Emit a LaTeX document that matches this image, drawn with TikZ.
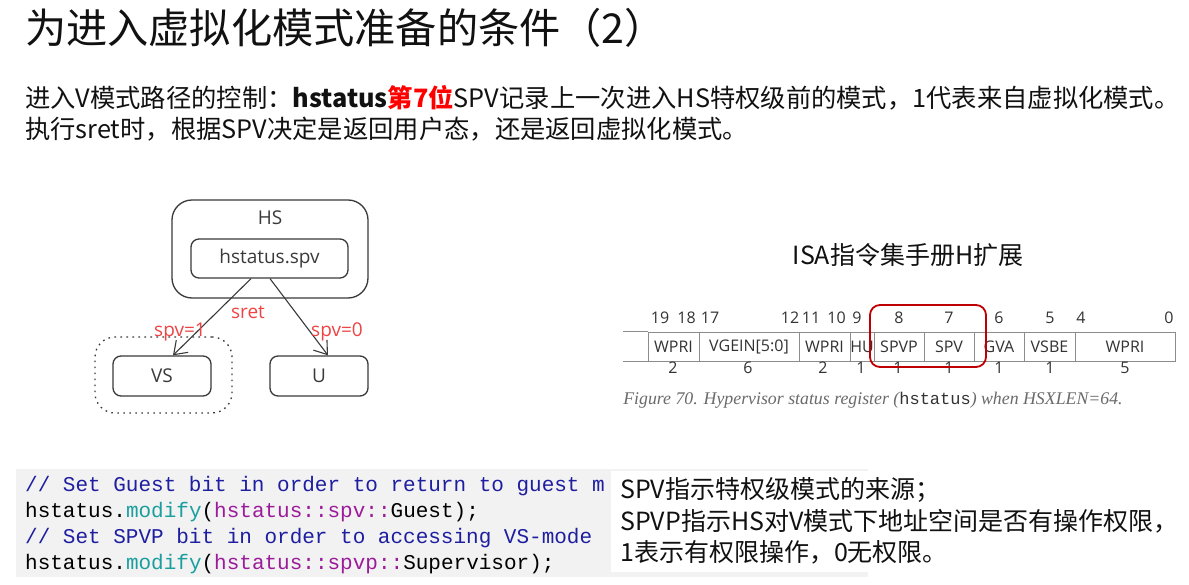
\documentclass[tikz,border=0pt]{standalone}
\usepackage{fontspec}
\usetikzlibrary{arrows.meta,calc}
\newfontfamily\cjk{Noto Sans CJK SC}
\newfontfamily\osans{Open Sans}
\newfontfamily\mono{Liberation Mono}
\newfontfamily\capserif{Liberation Serif}
\definecolor{boxgray}{HTML}{3A3A3A}
\definecolor{redlbl}{HTML}{EE4444}
\definecolor{bodyred}{HTML}{FF0000}
\definecolor{regline}{HTML}{8C8C8C}
\definecolor{regtext}{HTML}{333333}
\definecolor{redbox}{HTML}{C00000}
\definecolor{capgray}{HTML}{6A6A6A}
\definecolor{codeblue}{HTML}{1E1EA0}
\definecolor{codeteal}{HTML}{1A9E9E}
\definecolor{codepurple}{HTML}{9B1B9B}
\definecolor{codebg}{HTML}{F2F2F2}
\definecolor{txt}{HTML}{111111}
\tikzset{
  titletext/.style={anchor=west, inner sep=0pt, text=txt, font=\cjk\fontsize{41.2pt}{45pt}\selectfont},
  bodytext/.style={anchor=west, inner sep=0pt, text=txt, font=\cjk\fontsize{25.3pt}{30pt}\selectfont},
  notetext/.style={anchor=west, inner sep=0pt, text=txt, font=\cjk\fontsize{25pt}{30pt}\selectfont},
  isatext/.style={inner sep=0pt, text=txt, font=\cjk\fontsize{25pt}{29pt}\selectfont},
  outerbox/.style={draw=boxgray, line width=1.3pt, rounded corners=20pt, inner sep=0pt},
  statebox/.style={draw=boxgray, line width=1.3pt, rounded corners=8pt, inner sep=0pt, text=boxgray, font=\osans\fontsize{19pt}{22pt}\selectfont},
  statelbl/.style={inner sep=0pt, text=boxgray, font=\osans\fontsize{19pt}{22pt}\selectfont},
  dotbox/.style={draw=boxgray, line width=1.3pt, rounded corners=20pt, inner sep=0pt, dash pattern=on 1.6pt off 4.4pt},
  arr/.style={draw=boxgray, line width=1.1pt, -{Straight Barb[length=12pt,width=17pt,line width=1.1pt]}},
  redlabel/.style={inner sep=0pt, text=redlbl, font=\osans\fontsize{19pt}{22pt}\selectfont},
  cell/.style={draw=regline, line width=0.8pt, inner sep=0pt, minimum height=29pt, text=regtext, font=\osans\fontsize{16pt}{19pt}\selectfont},
  bitnum/.style={inner sep=0pt, text=regtext, font=\osans\fontsize{16pt}{19pt}\selectfont},
  regl/.style={draw=regline, line width=0.8pt},
  redsel/.style={draw=redbox, line width=1.8pt, rounded corners=10pt},
  captext/.style={inner sep=0pt, text=capgray, font=\capserif\fontsize{17.8pt}{21pt}\selectfont},
  codeline/.style={anchor=base west, inner sep=0pt, text=black, font=\mono\fontsize{21pt}{26pt}\selectfont},
}
\begin{document}
\begin{tikzpicture}[x=1pt,y=-1pt]
\path[use as bounding box] (0,0) rectangle (1189,585);
\fill[white] (0,0) rectangle (1189,585);

% title and introduction
\node[titletext] (title) at (25,28) {为进入虚拟化模式准备的条件（2）};
\node[bodytext] (line1) at (25,98) {进入V模式路径的控制：\textbf{hstatus\textcolor{bodyred}{第7位}}SPV记录上一次进入HS特权级前的模式，1代表来自虚拟化模式。};
\node[bodytext] (line2) at (25,129) {执行sret时，根据SPV决定是返回用户态，还是返回虚拟化模式。};

% state diagram
\node[outerbox, minimum width=196pt, minimum height=98pt] (hs) at (270,249) {};
\node[statelbl] (hslbl) at (270,218) {HS};
\node[statebox, minimum width=157pt, minimum height=39pt] (spv) at (269.5,258.5) {hstatus.spv};
\node[dotbox, minimum width=137pt, minimum height=76pt] (grp) at (163.5,375) {};
\node[statebox, minimum width=98pt, minimum height=40pt] (vs) at (162,376) {VS};
\node[statebox, minimum width=98pt, minimum height=40pt] (u) at (319,376) {U};
\draw[arr] ($(spv.south)+(-18.5,0)$) -- ($(vs.north)+(11,0)$);
\draw[arr] ($(spv.south)+(0.5,0)$) -- ($(u.north)+(9,0)$);
\node[redlabel] (sret) at (248,312) {sret};
\node[redlabel] (spv1) at (180,332) {spv=1};
\node[redlabel] (spv0) at (337,332) {spv=0};

% register figure
\node[isatext] (isa) at (908,255) {ISA指令集手册H扩展};
\node[cell, minimum width=51pt] (c1) at (673.5,346.5) {WPRI};
\node[cell, minimum width=100pt] (c2) at (749,346.5) {VGEIN[5:0]};
\node[cell, minimum width=51pt] (c3) at (824.5,346.5) {WPRI};
\node[cell, minimum width=24pt] (c4) at (862,346.5) {HU};
\node[cell, minimum width=50pt] (c5) at (899,346.5) {SPVP};
\node[cell, minimum width=50pt] (c6) at (949,346.5) {SPV};
\node[cell, minimum width=50pt] (c7) at (999,346.5) {GVA};
\node[cell, minimum width=51pt] (c8) at (1049.5,346.5) {VSBE};
\node[cell, minimum width=100pt] (c9) at (1125,346.5) {WPRI};
\draw[regl] (c1.north west) -- ++(-25,0);
\draw[regl] (c1.south west) -- ++(-25,0);
\node[bitnum] (b19) at (660,318) {19};
\node[bitnum] (b18) at (686.5,318) {18};
\node[bitnum] (b17) at (710,318) {17};
\node[bitnum] (b12) at (790,318) {12};
\node[bitnum] (b11) at (811,318) {11};
\node[bitnum] (b10) at (836.5,318) {10};
\node[bitnum] (b9) at (857,318) {9};
\node[bitnum] (b8) at (899,318) {8};
\node[bitnum] (b7) at (949,318) {7};
\node[bitnum] (b6) at (999,318) {6};
\node[bitnum] (b5) at (1050,318) {5};
\node[bitnum] (b4) at (1081,318) {4};
\node[bitnum] (b0) at (1169,318) {0};
\node[bitnum] (w1) at (673,368) {2};
\node[bitnum] (w2) at (748,368) {6};
\node[bitnum] (w3) at (823,368) {2};
\node[bitnum] (w4) at (861,368) {1};
\node[bitnum] (w5) at (898,368) {1};
\node[bitnum] (w6) at (949,368) {1};
\node[bitnum] (w7) at (999,368) {1};
\node[bitnum] (w8) at (1050,368) {1};
\node[bitnum] (w9) at (1125,368) {5};
\draw[redsel] (870,305) rectangle (986,367);
\node[captext] (cap) at (873,400) {\itshape Figure 70. Hypervisor status register (\upshape{\mono\fontsize{17pt}{21pt}\selectfont\textcolor{regtext}{hstatus}}\itshape) when HSXLEN=64.};

% code block
\fill[codebg] (16,469) rectangle (868,577);
\node[codeline] (k1) at (25,491.5) {\textcolor{codeblue}{// Set Guest bit in order to return to guest m}};
\node[codeline] (k2) at (25,517.5) {hstatus.\textcolor{codeteal}{modify}(\textcolor{codepurple}{hstatus::spv::}Guest);};
\node[codeline] (k3) at (25,543.5) {\textcolor{codeblue}{// Set SPVP bit in order to accessing VS-mode}};
\node[codeline] (k4) at (25,569.5) {hstatus.\textcolor{codeteal}{modify}(\textcolor{codepurple}{hstatus::spvp::}Supervisor);};

% note box
\fill[white] (611,471) rectangle (1189,572);
\node[notetext] (n1) at (620,490) {SPV指示特权级模式的来源；};
\node[notetext] (n2) at (620,521) {SPVP指示HS对V模式下地址空间是否有操作权限，};
\node[notetext] (n3) at (620,552) {1表示有权限操作，0无权限。};
\end{tikzpicture}
\end{document}
